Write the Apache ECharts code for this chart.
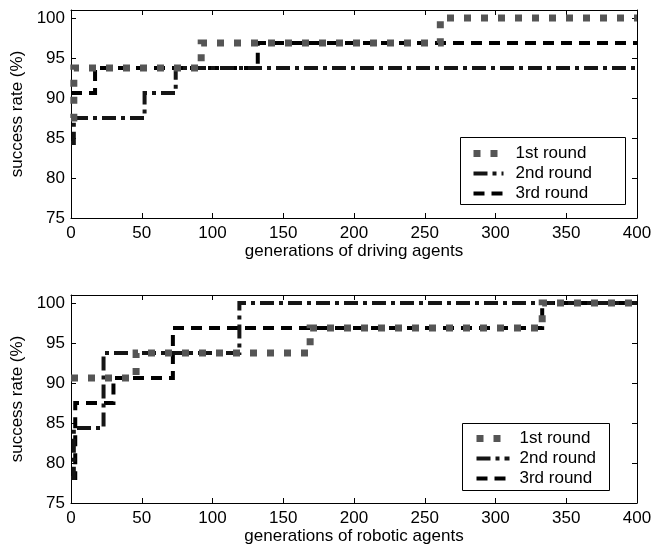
<!DOCTYPE html>
<html>
<head>
<meta charset="utf-8">
<script src="https://cdn.jsdelivr.net/npm/echarts@6/dist/echarts.min.js"></script>
<style>
  html, body { margin: 0; padding: 0; background: #fff; }
  #chart { width: 655px; height: 551px; }
</style>
</head>
<body>
<div id="chart"></div>
<script>
// Success rate (%) per generation, stored as change points: the value holds
// from each generation until the next listed one.
const roundNames = ['1st round', '2nd round', '3rd round'];

const drivingGen1 = [0, 2, 92, 261, 400];
const drivingVal1 = [87.5, 93.75, 96.875, 100, 100];
const drivingGen2 = [0, 2, 52, 74, 400];
const drivingVal2 = [84.375, 87.5, 90.625, 93.75, 93.75];
const drivingGen3 = [0, 17, 132, 400];
const drivingVal3 = [90.625, 93.75, 96.875, 96.875];

const roboticGen1 = [0, 46, 169, 333, 400];
const roboticVal1 = [90.625, 93.75, 96.875, 100, 100];
const roboticGen2 = [0, 2, 23, 119, 400];
const roboticVal2 = [78.125, 84.375, 93.75, 100, 100];
const roboticGen3 = [0, 3, 30, 72, 333, 400];
const roboticVal3 = [78.125, 87.5, 90.625, 96.875, 100, 100];

const xTitles = ['generations of driving agents', 'generations of robotic agents'];
const yTitle = 'success rate (%)';

const FONT = '"Liberation Sans", Arial, sans-serif';
const FS = 17;

function pairs(gens, vals) { return gens.map((g, i) => [g, vals[i]]); }

const styles = [
  { color: '#555555', width: 7, type: [7, 10] },
  { color: '#151515', width: 4, type: [14, 5, 4, 5] },
  { color: '#000000', width: 4, type: [11, 7] }
];

const panels = [
  [pairs(drivingGen1, drivingVal1), pairs(drivingGen2, drivingVal2), pairs(drivingGen3, drivingVal3)],
  [pairs(roboticGen1, roboticVal1), pairs(roboticGen2, roboticVal2), pairs(roboticGen3, roboticVal3)]
];

const grids = [
  { left: 71, top: 10, width: 566, height: 208 },
  { left: 71, top: 295, width: 566, height: 208 }
];

const axisLine = { show: true, onZero: false, lineStyle: { color: '#000', width: 1 } };
const tickIn = { show: true, inside: true, length: 5, lineStyle: { color: '#000', width: 1 } };

const xAxis = [], yAxis = [], series = [];
grids.forEach((g, k) => {
  // bottom / left axes with labels
  xAxis.push({
    type: 'value', gridIndex: k, min: 0, max: 400, interval: 50, position: 'bottom',
    axisLine, axisTick: tickIn, splitLine: { show: false },
    axisLabel: { color: '#000', fontFamily: FONT, fontSize: FS, margin: 7 },
    name: xTitles[k], nameLocation: 'middle', nameGap: 19,
    nameTextStyle: { color: '#000', fontFamily: FONT, fontSize: FS }
  });
  yAxis.push({
    type: 'value', gridIndex: k, min: 75, max: 101, interval: 5, position: 'left',
    axisLine, axisTick: tickIn, splitLine: { show: false },
    axisLabel: { color: '#000', fontFamily: FONT, fontSize: FS, margin: 6, showMaxLabel: false },
    name: yTitle, nameLocation: 'middle', nameGap: 40,
    nameTextStyle: { color: '#000', fontFamily: FONT, fontSize: FS }
  });
  // top / right axes closing the box
  xAxis.push({
    type: 'value', gridIndex: k, min: 0, max: 400, interval: 50, position: 'top',
    axisLine, axisTick: tickIn, axisLabel: { show: false }, splitLine: { show: false }
  });
  yAxis.push({
    type: 'value', gridIndex: k, min: 75, max: 101, interval: 5, position: 'right',
    axisLine, axisTick: tickIn, axisLabel: { show: false, showMaxLabel: false }, splitLine: { show: false }
  });

  panels[k].forEach((data, i) => {
    series.push({
      type: 'line', name: roundNames[i], xAxisIndex: 2 * k, yAxisIndex: 2 * k,
      step: 'end', symbol: 'none', data, animation: false, silent: true,
      lineStyle: { color: styles[i].color, width: styles[i].width, type: styles[i].type, cap: 'butt', join: 'miter' },
      itemStyle: { color: styles[i].color },
      z: 3 - i
    });
  });
});

// legend boxes (frame drawn separately, entries drawn by the legend component)
const legendBoxes = [
  { x: 460, y: 137, w: 165, h: 67, itemLeft: 470, itemTop: 145, itemWidth: 30, textGap: 7 },
  { x: 462, y: 423, w: 147, h: 67, itemLeft: 473, itemTop: 430, itemWidth: 33, textGap: 5 }
];

const legend = legendBoxes.map(b => ({
  left: b.itemLeft, top: b.itemTop, orient: 'vertical', padding: 0, z: 20,
  data: roundNames.map((n, i) => ({
    name: n,
    lineStyle: { width: styles[i].width },
    itemStyle: { opacity: 0 }
  })),
  itemWidth: b.itemWidth, itemHeight: 14, itemGap: 3,
  selectedMode: false,
  textStyle: { color: '#000', fontFamily: FONT, fontSize: FS, padding: [0, 0, 0, b.textGap] }
}));

const graphic = legendBoxes.map(b => ({
  type: 'rect', z: 15, silent: true,
  shape: { x: b.x + 0.5, y: b.y + 0.5, width: b.w, height: b.h },
  style: { fill: '#fff', stroke: '#000', lineWidth: 1 }
}));

const chart = echarts.init(document.getElementById('chart'), null, { renderer: 'canvas' });
chart.setOption({
  backgroundColor: '#fff',
  animation: false,
  grid: grids,
  xAxis, yAxis, series, legend, graphic
});
</script>
</body>
</html>
